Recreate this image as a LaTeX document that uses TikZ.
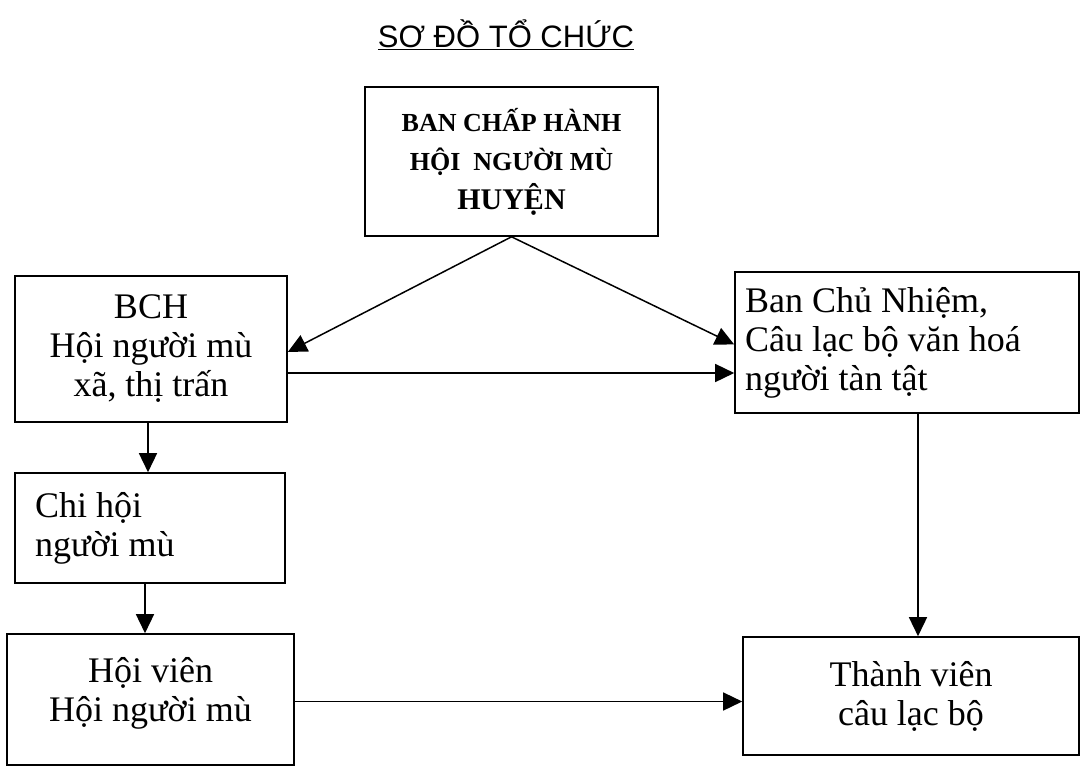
\documentclass[tikz,border=0pt]{standalone}
\usepackage{fontspec}
\setmainfont{Liberation Serif}
\newfontfamily\titlefont{Liberation Sans}
\usetikzlibrary{arrows.meta,calc}

\begin{document}
\begin{tikzpicture}[x=1pt,y=-1pt,
        box/.style={draw,line width=1.6pt,rectangle,inner sep=0pt,align=center,
            font=\fontsize{36}{39}\selectfont},
        arr/.style={line width=1.5pt,-{Triangle[length=19pt,width=18pt]}}]
        \useasboundingbox (0,0) rectangle (1081,766);
        \node (title) at (506,35) {\titlefont\fontsize{31}{35}\selectfont\underline{SƠ ĐỒ TỔ CHỨC}};
        \node[box,minimum width=293,minimum height=149] (top) at (511.5,161.5)
            {\fontsize{26}{37}\selectfont\bfseries BAN CHẤP HÀNH\\
             \fontsize{26}{37}\selectfont\bfseries HỘI\ \ NGƯỜI MÙ\\
             \fontsize{30}{39}\selectfont\bfseries HUYỆN};
        \node[box,minimum width=272,minimum height=146] (bch) at (151,349)
            {BCH\\Hội người mù\\xã, thị trấn};
        \node[box,minimum width=344,minimum height=141,text width=324,align=flush left] (bcn) at (907,342.5)
            {Ban Chủ Nhiệm,\\Câu lạc bộ văn hoá\\người tàn tật};
        \node[box,minimum width=270,minimum height=110,text width=230,align=flush left] (chi) at (150,528)
            {Chi hội\\người mù};
        \node[box,minimum width=287,minimum height=131] (hv) at (150.5,699.5)
            {Hội viên\\Hội người mù\\[-19pt]};
        \node[box,minimum width=336,minimum height=118] (tv) at (911,696)
            {Thành viên\\câu lạc bộ};
        \draw[arr] (top.south) -- ([yshift=-3pt]bch.east);
        \draw[arr] (top.south) -- ([yshift=-2pt]bcn.west);
        \coordinate (bchout) at ([yshift=-24pt]bch.east);
        \draw[arr] (bchout) -- (bchout -| bcn.west);
        \draw[arr] ([xshift=-3pt]bch.south) -- ([xshift=-2pt]chi.north);
        \draw[arr] ([xshift=-5pt]chi.south) -- ([xshift=-5.5pt]hv.north);
        \draw[arr] ([xshift=11pt]bcn.south) -- ([xshift=7pt]tv.north);
        \coordinate (hvout) at ([yshift=-2pt]hv.east);
        \draw[arr] (hvout) -- (hvout -| tv.west);
\end{tikzpicture}
\end{document}
